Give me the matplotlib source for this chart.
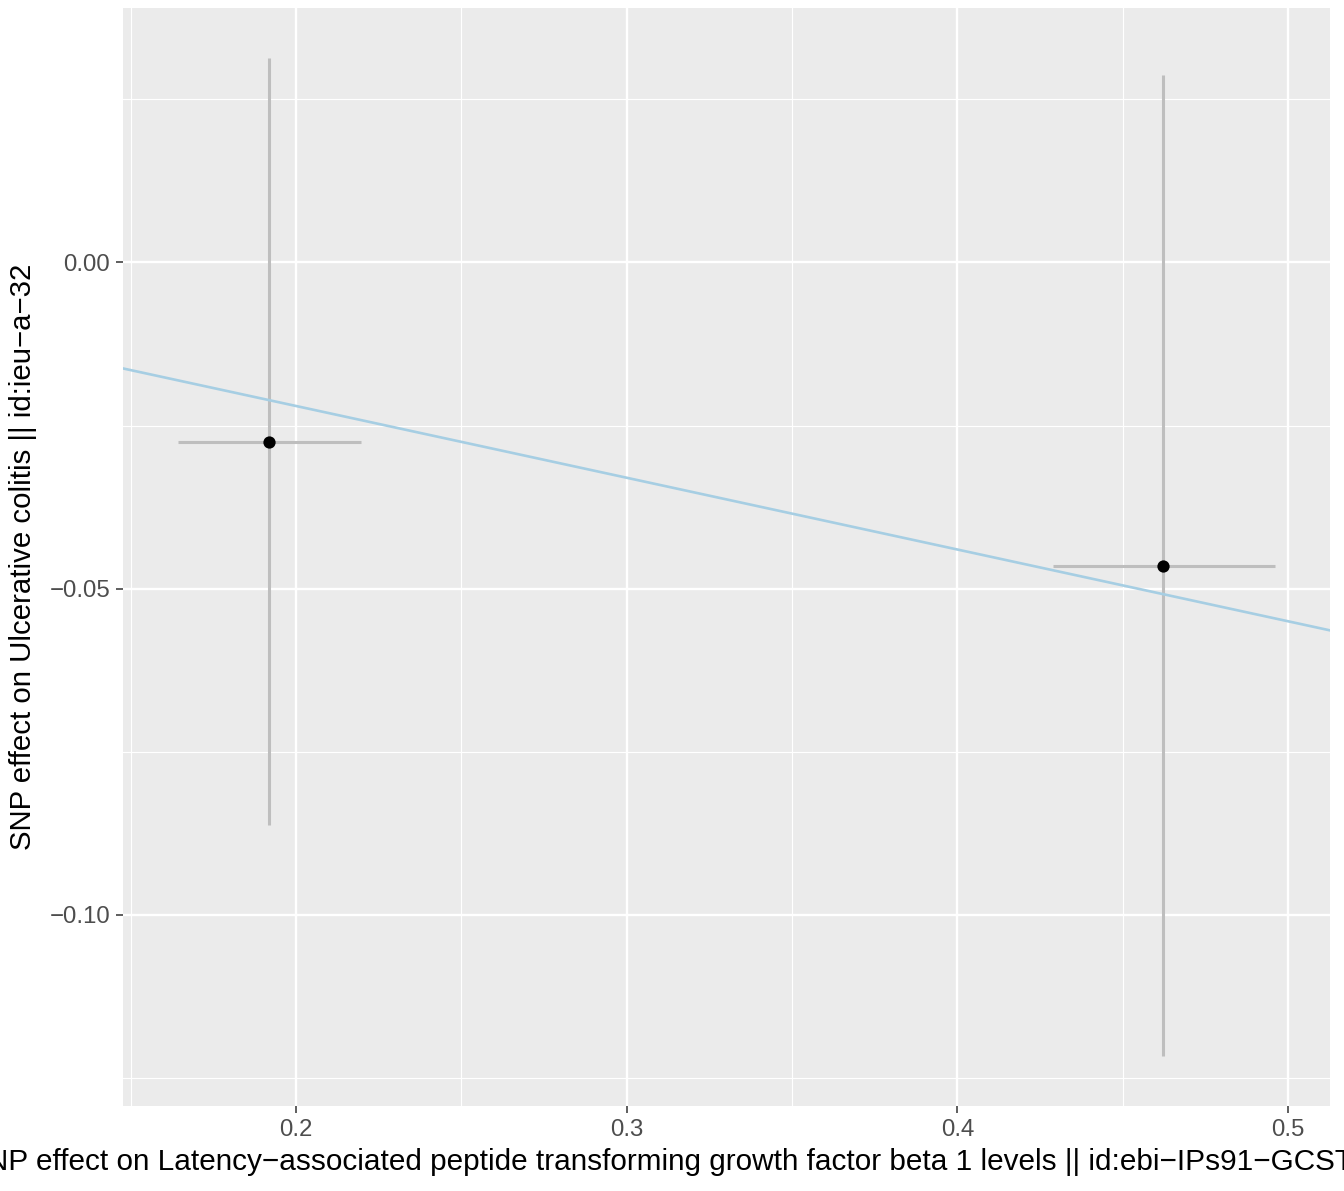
import matplotlib
matplotlib.use("Agg")
import matplotlib.pyplot as plt
from matplotlib.ticker import FixedLocator, FuncFormatter

# SNP-level data (exposure beta / se, outcome beta / se)
beta_exp = [0.1918, 0.4622]
beta_exp_lo = [0.1643, 0.4289]
beta_exp_hi = [0.2197, 0.4961]
beta_out = [-0.02745, -0.0466]
beta_out_lo = [-0.0863, -0.1216]
beta_out_hi = [0.0313, 0.0287]

ivw_slope = -0.110
xlim = (0.1477, 0.5127)
ylim = (-0.1293, 0.039)

x_major = [0.2, 0.3, 0.4, 0.5]
x_minor = [0.15, 0.25, 0.35, 0.45]
y_major = [-0.10, -0.05, 0.00]
y_minor = [-0.125, -0.075, -0.025, 0.025]

xlab = ("SNP effect on Latency\u2212associated peptide transforming growth factor "
        "beta 1 levels || id:ebi\u2212IPs91\u2212GCST90012025")
ylab = "SNP effect on Ulcerative colitis || id:ieu\u2212a\u221232"

plt.rcParams['font.family'] = ['Liberation Sans', 'DejaVu Sans']

fig = plt.figure(figsize=(13.44, 11.91), dpi=100)
ax = fig.add_axes([123 / 1344, 1 - 1106 / 1191, (1330 - 123) / 1344, (1106 - 8) / 1191])
ax.set_facecolor('#EBEBEB')
for s in ax.spines.values():
    s.set_visible(False)

ax.set_xlim(*xlim)
ax.set_ylim(*ylim)

# grid
for v in x_minor:
    ax.axvline(v, color='white', lw=0.8, zorder=0)
for v in y_minor:
    ax.axhline(v, color='white', lw=0.8, zorder=0)
for v in x_major:
    ax.axvline(v, color='white', lw=1.7, zorder=0)
for v in y_major:
    ax.axhline(v, color='white', lw=1.7, zorder=0)

# error bars
for i in range(len(beta_exp)):
    ax.plot([beta_exp[i], beta_exp[i]], [beta_out_lo[i], beta_out_hi[i]],
            color='#BEBEBE', lw=2.2, zorder=2, solid_capstyle='butt')
    ax.plot([beta_exp_lo[i], beta_exp_hi[i]], [beta_out[i], beta_out[i]],
            color='#BEBEBE', lw=2.2, zorder=2, solid_capstyle='butt')

# IVW line
ax.plot(list(xlim), [ivw_slope * xlim[0], ivw_slope * xlim[1]],
        color='#A6CEE3', lw=1.9, zorder=3)

ax.scatter(beta_exp, beta_out, s=78, color='black', zorder=4, linewidths=0)

ax.xaxis.set_major_locator(FixedLocator(x_major))
ax.yaxis.set_major_locator(FixedLocator(y_major))
ax.xaxis.set_major_formatter(FuncFormatter(lambda v, p: f"{v:.1f}"))
ax.yaxis.set_major_formatter(FuncFormatter(lambda v, p: f"{v:.2f}".replace("-", "\u2212")))
ax.tick_params(length=5.3, width=1.1, color='#333333', labelcolor='#4D4D4D',
               labelsize=17.3, pad=4)

ax.set_xlabel(xlab, fontsize=21.45, color='black', labelpad=5)
ax.set_ylabel(ylab, fontsize=21.2, color='black', labelpad=9)

fig.savefig("out.png", dpi=100)
